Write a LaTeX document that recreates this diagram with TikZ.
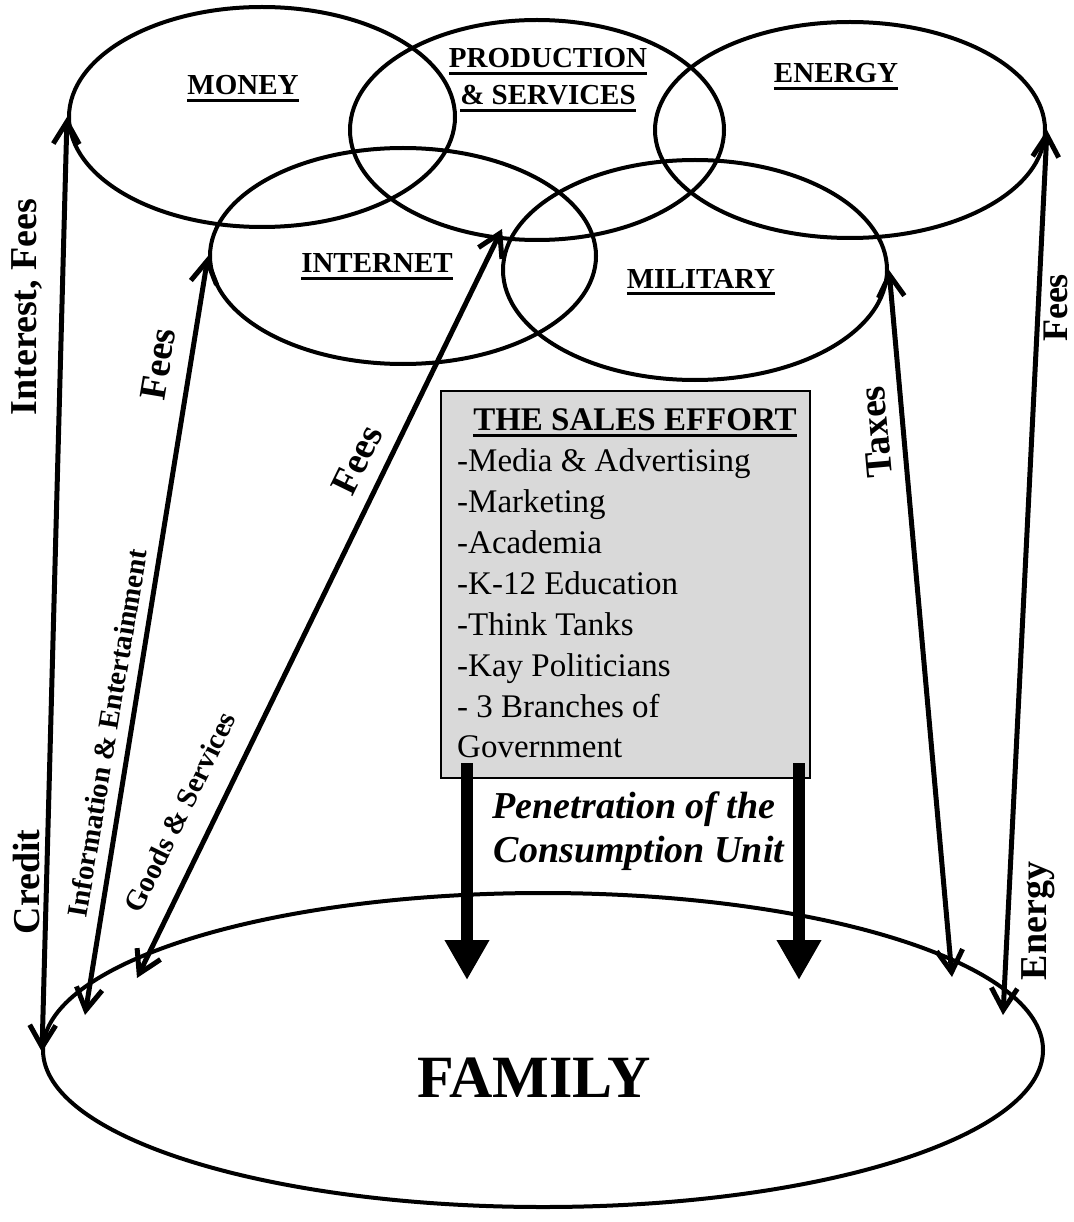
\documentclass[tikz,border=0pt]{standalone}
\usepackage{fontspec}
\setmainfont{Liberation Serif}
\usetikzlibrary{shapes.geometric,arrows.meta}
\newcommand\myul[1]{\setbox0=\hbox{#1}\leavevmode\rlap{\rule[-7pt]{\wd0}{3pt}}\box0}
\begin{document}
\begin{tikzpicture}[x=1pt,y=-1pt,
  ring/.style={draw, ellipse, line width=4pt, inner sep=0pt},
  salesbox/.style={draw, line width=2.5pt, fill=gray!30, inner sep=0pt},
  flow/.style={line width=5pt, {Straight Barb[length=22pt,width=26pt]}-{Straight Barb[length=22pt,width=26pt]}},
  push/.style={line width=12pt, -{Triangle[length=40pt,width=42pt]}},
  lab/.style={font=\fontsize{29}{34}\selectfont\bfseries, inner sep=0pt, anchor=base},
  side/.style={font=\fontsize{38}{44}\selectfont\bfseries, inner sep=0pt},
  small/.style={font=\fontsize{29}{34}\selectfont\bfseries, inner sep=0pt},
  item/.style={font=\fontsize{33}{38}\selectfont, inner sep=0pt, anchor=base west},
  pen/.style={font=\fontsize{38}{44}\selectfont\bfseries\itshape, inner sep=0pt, anchor=base}]
\useasboundingbox (0,0) rectangle (1073,1222);

% ellipses
\node[ring, minimum width=386pt, minimum height=220pt] (money) at (262,117) {};
\node[ring, minimum width=374pt, minimum height=220pt] (production) at (537,130) {};
\node[ring, minimum width=390pt, minimum height=216pt] (energy) at (850,130) {};
\node[ring, minimum width=386pt, minimum height=216pt] (internet) at (403,256) {};
\node[ring, minimum width=384pt, minimum height=220pt] (military) at (695,270) {};
\node[ring, minimum width=1000pt, minimum height=314pt] (family) at (543,1050) {};

% sales box
\node[salesbox, minimum width=369pt, minimum height=387pt] (sales) at (625.5,584.5) {};

% ellipse labels
\node[lab] (tmoney) at (243,95) {\myul{MONEY}};
\node[lab] (tprod1) at (548,68) {\myul{PRODUCTION}};
\node[lab] (tprod2) at (548,105) {\myul{\& SERVICES}};
\node[lab] (tenergy) at (836,83) {\myul{ENERGY}};
\node[lab] (tinternet) at (377,273) {\myul{INTERNET}};
\node[lab] (tmilitary) at (701,288) {\myul{MILITARY}};

% box text
\node[font=\fontsize{33}{38}\selectfont\bfseries, inner sep=0pt, anchor=base] (ttitle) at (635,430) {\myul{THE SALES EFFORT}};
\node[item] (l1) at (457,471) {-Media \& Advertising};
\node[item] (l2) at (457,512) {-Marketing};
\node[item] (l3) at (457,553) {-Academia};
\node[item] (l4) at (457,594) {-K-12 Education};
\node[item] (l5) at (457,635) {-Think Tanks};
\node[item] (l6) at (457,676) {-Kay Politicians};
\node[item] (l7) at (457,717) {- 3 Branches of};
\node[item] (l8) at (457,757) {Government};

% coordinates on the family ellipse
\coordinate (f1) at (42,1052);
\coordinate (f2) at (85,1015);
\coordinate (f3) at (137,978);
\coordinate (f4) at (952,977);
\coordinate (f5) at (1003,1015);
\coordinate (prodtip) at (502,229);

% flow arrows
\draw[flow] (money.west) -- (f1);
\draw[flow] (internet.west) -- (f2);
\draw[flow] (prodtip) -- (f3);
\draw[flow] (military.east) -- (f4);
\draw[flow] (energy.east) -- (f5);

% push arrows
\coordinate (pa1) at (467,763);
\coordinate (pa2) at (467,980);
\coordinate (pb1) at (799,763);
\coordinate (pb2) at (799,980);
\draw[push] (pa1) -- (pa2);
\draw[push] (pb1) -- (pb2);

% arrow labels
\node[side, rotate=90] (tint) at (27,307) {Interest, Fees};
\node[side, rotate=90] (tcredit) at (27,882) {Credit};
\node[side, rotate=80.6] (tfees1) at (158,364) {Fees};
\node[small, rotate=80.6] (tinfo) at (107,733) {Information \& Entertainment};
\node[side, rotate=64] (tfees2) at (357,460) {Fees};
\node[small, rotate=64] (tgoods) at (180,812) {Goods \& Services};
\node[side, rotate=95] (ttaxes) at (876,432) {Taxes};
\node[side, rotate=90, font=\fontsize{36}{42}\selectfont\bfseries] (tfees3) at (1056,308) {Fees};
\node[side, rotate=90] (tenergy2) at (1038,921) {Energy};

% penetration text
\node[pen] (pen1) at (634,818) {Penetration of the};
\node[pen] (pen2) at (639,862) {Consumption Unit};

% family
\node[font=\fontsize{60}{66}\selectfont\bfseries, inner sep=0pt, anchor=base] (tfamily) at (534,1097) {FAMILY};
\end{tikzpicture}
\end{document}
